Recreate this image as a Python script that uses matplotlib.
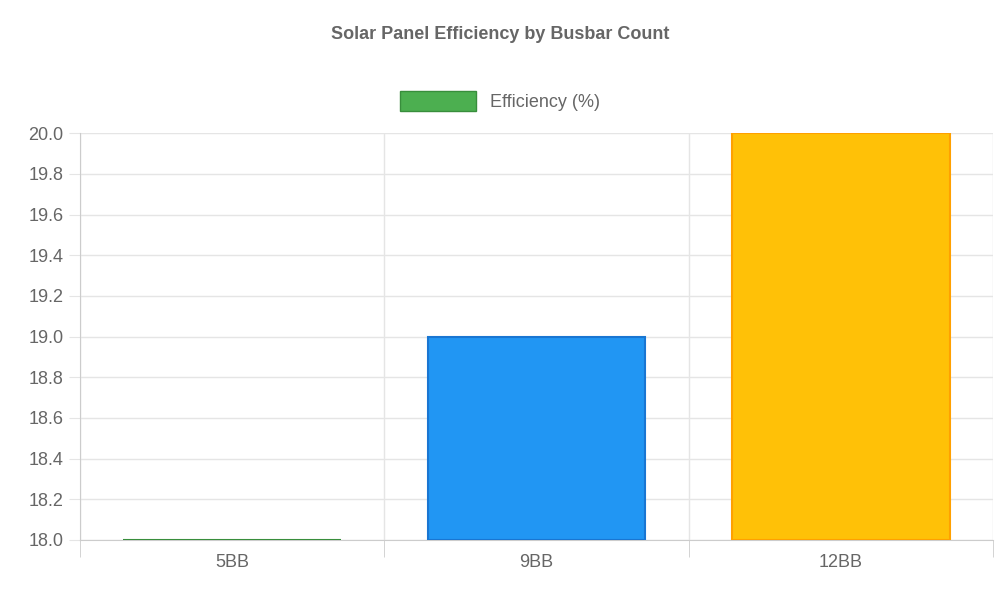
import matplotlib
matplotlib.use('Agg')
import matplotlib.pyplot as plt
from matplotlib.patches import Patch
import numpy as np

plt.rcParams['font.family'] = ['Liberation Sans', 'DejaVu Sans']

categories = ['5BB', '9BB', '12BB']
efficiency = [18.0, 19.0, 20.0]
y_ticks = [18.0, 18.2, 18.4, 18.6, 18.8, 19.0, 19.2, 19.4, 19.6, 19.8, 20.0]

fill_colors = ['#4CAF50', '#2196F3', '#FFC107']
edge_colors = ['#388E3C', '#1976D2', '#FFA000']
grid_c = '#e5e5e5'
text_c = '#666666'

fig = plt.figure(figsize=(10, 6), dpi=100)
ax = fig.add_axes([0.08, 0.10, 0.913, 0.678])

x = np.arange(len(categories))
base = y_ticks[0]
ax.bar(x, np.array(efficiency) - base, bottom=base, width=0.715,
       color=fill_colors, edgecolor=edge_colors, linewidth=1.5, zorder=3)

ax.set_xlim(-0.5, len(categories) - 0.5)
ax.set_ylim(y_ticks[0], y_ticks[-1])
ax.set_yticks(y_ticks)
ax.set_yticklabels([f'{v:.1f}' for v in y_ticks])
ax.set_xticks(x)
ax.set_xticklabels(categories)
ax.set_xticks(np.arange(-0.5, len(categories)), minor=True)

ax.grid(axis='y', color=grid_c, linewidth=1, zorder=0)
ax.grid(axis='x', which='minor', color=grid_c, linewidth=1, zorder=0)
ax.tick_params(axis='y', length=8, color=grid_c, labelsize=13, labelcolor=text_c, pad=4)
ax.tick_params(axis='x', which='major', length=0, labelsize=13, labelcolor=text_c, pad=10)
ax.tick_params(axis='x', which='minor', length=12, color='#cccccc')
for s in ['top', 'right']:
    ax.spines[s].set_visible(False)
for s in ['left', 'bottom']:
    ax.spines[s].set_color('#cccccc')

fig.text(0.5, 0.943, 'Solar Panel Efficiency by Busbar Count', ha='center', va='center',
         fontsize=13, fontweight='bold', color=text_c)
fig.legend(handles=[Patch(facecolor=fill_colors[0], edgecolor=edge_colors[0], label='Efficiency (%)')],
           loc='center', bbox_to_anchor=(0.5, 0.832), frameon=False, fontsize=13,
           handlelength=4.2, handleheight=1.3, labelcolor=text_c)

fig.savefig('out.png', dpi=100)
